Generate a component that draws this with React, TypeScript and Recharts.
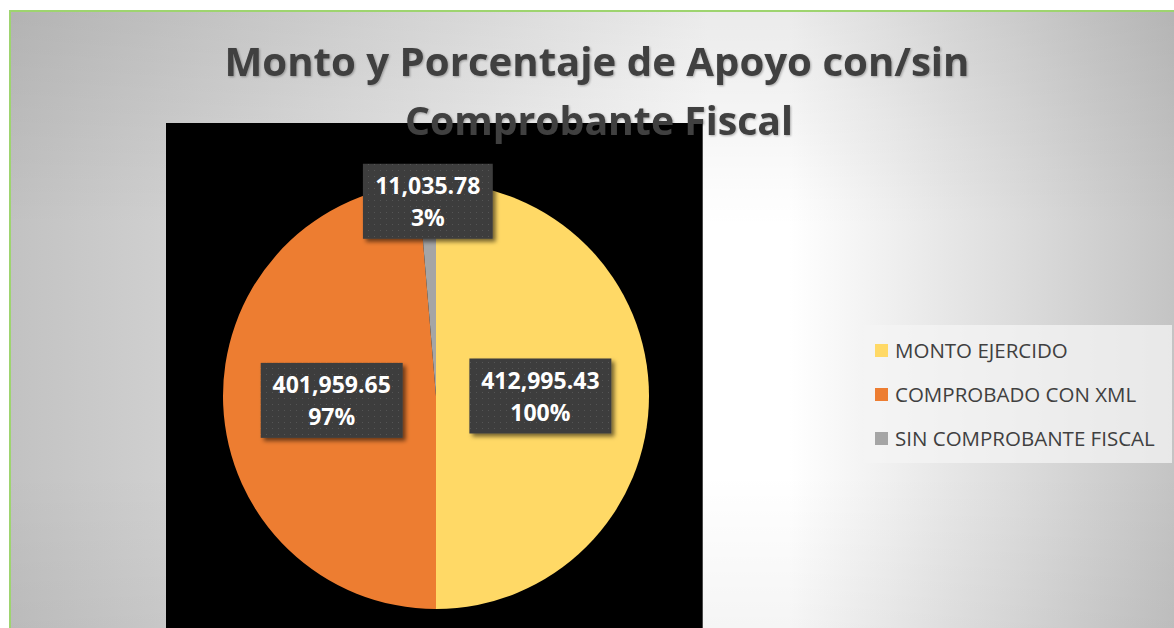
import { Cell, Legend, Pie, PieChart } from "recharts"

const categories = ["MONTO EJERCIDO", "COMPROBADO CON XML", "SIN COMPROBANTE FISCAL"]
const amounts = [412995.43, 401959.65, 11035.78]
const amountLabels = ["412,995.43", "401,959.65", "11,035.78"]
const percentLabels = ["100%", "97%", "3%"]
const colors = ["#FFD966", "#ED7D31", "#A5A5A5"]

const titleLines = ["Monto y Porcentaje de Apoyo con/sin", "Comprobante Fiscal"]

const W = 1174
const H = 628
const RADIAN = Math.PI / 180

const data = categories.map((name, i) => ({
  name,
  value: amounts[i],
  amount: amountLabels[i],
  pct: percentLabels[i],
}))

// light centre, grey towards the edges
function Background() {
  return (
    <svg width={W} height={H} style={{ position: "absolute", left: 0, top: 0 }}>
      <defs>
        <linearGradient id="bg-h" gradientUnits="userSpaceOnUse" x1={10} y1={0} x2={W} y2={0}>
          <stop offset="0" stopColor="#c2c2c2" />
          <stop offset="0.6" stopColor="#ffffff" />
          <stop offset="0.67" stopColor="#ffffff" />
          <stop offset="1" stopColor="#c4c4c4" />
        </linearGradient>
        <linearGradient id="bg-v" gradientUnits="userSpaceOnUse" x1={0} y1={10} x2={0} y2={H}>
          <stop offset="0" stopColor="#000" stopOpacity={0.08} />
          <stop offset="0.35" stopColor="#000" stopOpacity={0} />
          <stop offset="0.75" stopColor="#000" stopOpacity={0} />
          <stop offset="1" stopColor="#000" stopOpacity={0.04} />
        </linearGradient>
      </defs>
      <rect x={0} y={0} width={W} height={H} fill="#ffffff" />
      <rect x={10} y={10} width={W - 10} height={H - 10} fill="url(#bg-h)" />
      <rect x={10} y={10} width={W - 10} height={H - 10} fill="url(#bg-v)" />
      <line x1={9} y1={11} x2={W} y2={11} stroke="#9ed46f" strokeWidth={2} />
      <line x1={10} y1={10} x2={10} y2={H} stroke="#9ed46f" strokeWidth={2} />
    </svg>
  )
}

const renderLabel = (props: any) => {
  const { cx, cy, midAngle, outerRadius, percent, index } = props
  const f = percent < 0.05 ? 0.915 : 0.49
  const r = outerRadius * f
  const x = cx + r * Math.cos(-midAngle * RADIAN)
  const y = cy + r * Math.sin(-midAngle * RADIAN)
  const d = data[index]
  const w = 12.2 * d.amount.length + 20
  const h = 75
  return (
    <g>
      <defs>
        <pattern id={`dots-${index}`} width={6} height={6} patternUnits="userSpaceOnUse">
          <rect width={6} height={6} fill="#3d3d3d" />
          <rect x={2} y={2} width={1} height={1} fill="#555555" />
        </pattern>
        <filter id={`sh-${index}`} x="-20%" y="-20%" width="140%" height="150%">
          <feDropShadow dx={3} dy={3} stdDeviation={2} floodColor="#000" floodOpacity={0.55} />
        </filter>
      </defs>
      <rect
        x={x - w / 2}
        y={y - h / 2}
        width={w}
        height={h}
        fill={`url(#dots-${index})`}
        filter={`url(#sh-${index})`}
      />
      <text
        x={x}
        y={y - 7}
        textAnchor="middle"
        fill="#ffffff"
        fontFamily="'Open Sans', sans-serif"
        fontWeight={700}
        fontSize={23}
      >
        {d.amount}
      </text>
      <text
        x={x}
        y={y + 25}
        textAnchor="middle"
        fill="#ffffff"
        fontFamily="'Open Sans', sans-serif"
        fontWeight={700}
        fontSize={23}
      >
        {d.pct}
      </text>
    </g>
  )
}

const renderLegend = (props: any) => {
  const payload = props.payload && props.payload.length ? props.payload : []
  const items = categories.map((name, i) => {
    const p = payload.find((e: any) => e.value === name)
    return { name, color: p ? p.color : colors[i] }
  })
  return (
    <div
      style={{
        width: 308,
        height: 138,
        background: "rgba(244,244,244,0.75)",
        boxSizing: "border-box",
        paddingTop: 3,
        paddingLeft: 11,
      }}
    >
      {items.map((it) => (
        <div
          key={it.name}
          style={{
            display: "flex",
            alignItems: "center",
            height: 44,
            fontFamily: "'Open Sans', sans-serif",
            fontSize: 20.5,
            color: "#404040",
            whiteSpace: "nowrap",
          }}
        >
          <span
            style={{
              display: "inline-block",
              width: 13,
              height: 13,
              background: it.color,
              marginRight: 7,
            }}
          />
          {it.name}
        </div>
      ))}
    </div>
  )
}

export default function App() {
  return (
    <div style={{ position: "absolute", left: 0, top: 0, width: W, height: H, overflow: "hidden" }}>
      <Background />
      <div
        style={{
          position: "absolute",
          left: 166,
          top: 123,
          width: 536,
          height: H - 123,
          background: "#000000",
          borderRight: "1px solid #4a4a4a",
        }}
      />
      <PieChart
        width={W}
        height={H}
        margin={{ top: 0, right: 0, bottom: 0, left: 0 }}
        style={{ position: "absolute", left: 0, top: 0 }}
      >
        <Pie
          data={data}
          dataKey="value"
          nameKey="name"
          cx={436}
          cy={396}
          outerRadius={213}
          startAngle={90}
          endAngle={-270}
          stroke="none"
          label={renderLabel}
          labelLine={false}
          isAnimationActive={false}
        >
          {data.map((d, i) => (
            <Cell key={d.name} fill={colors[i]} />
          ))}
        </Pie>
        <Legend
          content={renderLegend}
          wrapperStyle={{ position: "absolute", left: 864, top: 325, width: 308, height: 138 }}
        />
      </PieChart>
      <svg width={W} height={160} style={{ position: "absolute", left: 0, top: 0, pointerEvents: "none" }}>
        <defs>
          <filter id="title-sh" x="-5%" y="-20%" width="110%" height="150%">
            <feDropShadow dx={1} dy={1} stdDeviation={1} floodColor="#000" floodOpacity={0.3} />
          </filter>
        </defs>
        <text
          x={597}
          y={76}
          textAnchor="middle"
          fill="#404040"
          fontFamily="'Open Sans', sans-serif"
          fontWeight={700}
          fontSize={40}
          textLength={745}
          lengthAdjust="spacingAndGlyphs"
          filter="url(#title-sh)"
        >
          {titleLines[0]}
        </text>
        <text
          x={599}
          y={135}
          textAnchor="middle"
          fill="#404040"
          fontFamily="'Open Sans', sans-serif"
          fontWeight={700}
          fontSize={40}
          textLength={388}
          lengthAdjust="spacingAndGlyphs"
          filter="url(#title-sh)"
        >
          {titleLines[1]}
        </text>
      </svg>
    </div>
  )
}
